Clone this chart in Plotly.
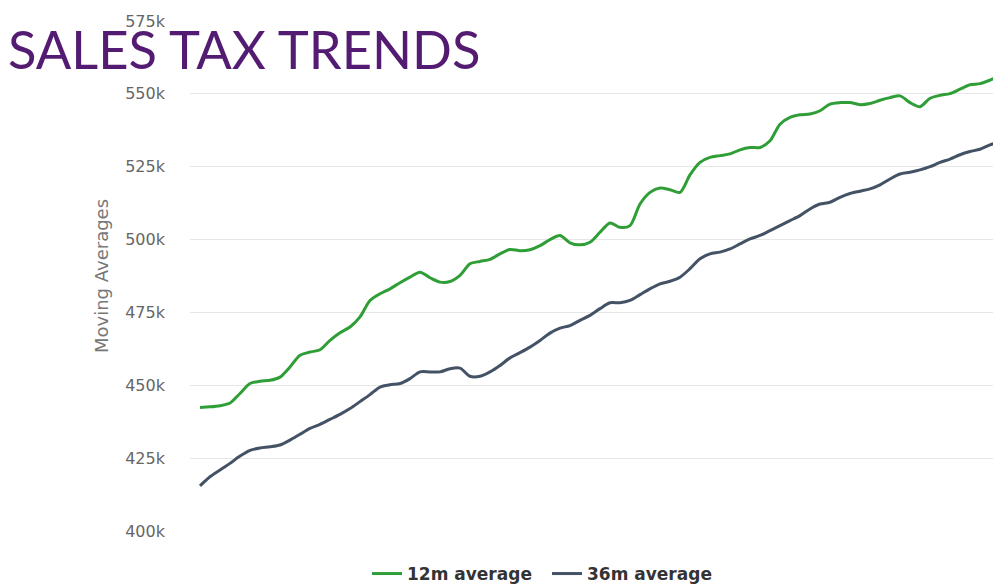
import plotly.graph_objects as go

# Monthly index (no x labels shown in the reference)
months = list(range(81))

avg_12m = [442.4, 442.6, 443.0, 443.9, 447.2, 450.6, 451.4, 451.7, 452.8, 456.3,
           460.3, 461.4, 462.2, 465.4, 468.0, 470.0, 473.5, 479.1, 481.4, 483.1,
           485.2, 487.1, 488.8, 486.9, 485.4, 485.6, 487.7, 491.7, 492.5, 493.2,
           495.1, 496.6, 496.2, 496.5, 497.9, 500.0, 501.4, 498.9, 498.2, 499.1,
           502.5, 505.7, 504.2, 504.8, 512.2, 516.2, 517.7, 517.1, 516.2, 522.2,
           526.5, 528.2, 528.8, 529.4, 530.8, 531.6, 531.6, 533.9, 539.6, 541.9,
           542.8, 543.1, 544.2, 546.5, 547.0, 547.0, 546.3, 546.7, 547.8, 548.7,
           549.3, 547.0, 545.6, 548.5, 549.5, 550.1, 551.6, 553.1, 553.5, 554.7,
           556.2]

avg_36m = [415.5, 418.6, 420.9, 423.2, 425.7, 427.7, 428.5, 428.9, 429.5, 431.2,
           433.2, 435.2, 436.6, 438.3, 440.0, 442.0, 444.4, 446.8, 449.4, 450.2,
           450.6, 452.3, 454.6, 454.6, 454.6, 455.7, 455.9, 453.1, 453.1, 454.6,
           456.8, 459.4, 461.2, 463.1, 465.4, 467.9, 469.6, 470.5, 472.3, 474.0,
           476.3, 478.3, 478.3, 479.1, 481.1, 483.1, 484.8, 485.7, 487.1, 490.0,
           493.4, 495.1, 495.7, 496.8, 498.5, 500.2, 501.4, 503.1, 504.8, 506.5,
           508.2, 510.5, 512.2, 512.8, 514.5, 515.8, 516.6, 517.4, 518.8, 520.8,
           522.5, 523.1, 523.9, 525.0, 526.5, 527.6, 529.1, 530.2, 531.0, 532.5,
           533.5]

tick_values = [400000, 425000, 450000, 475000, 500000, 525000, 550000, 575000]
tick_labels = ["400k", "425k", "450k", "475k", "500k", "525k", "550k", "575k"]

series_names = ["12m average", "36m average"]

GREEN = "#2f9e37"
SLATE = "#445266"

# The page body has an 8px default margin, so the figure is sized/positioned
# to compensate (figure coords = page coords - 8).
W, H = 993, 576
L, T, B = 182, 13, 53
PH = H - T - B  # plot height
PW = W - L

fig = go.Figure()
fig.add_trace(go.Scatter(x=months, y=[v * 1000 for v in avg_12m], mode="lines",
                         name=series_names[0],
                         line=dict(color=GREEN, width=3, shape="spline", smoothing=0.8)))
fig.add_trace(go.Scatter(x=months, y=[v * 1000 for v in avg_36m], mode="lines",
                         name=series_names[1],
                         line=dict(color=SLATE, width=3, shape="spline", smoothing=0.8)))

fig.update_layout(
    width=W, height=H,
    margin=dict(l=L, r=0, t=T, b=B, autoexpand=False),
    paper_bgcolor="white", plot_bgcolor="white",
    font=dict(family="DejaVu Sans", color="#666666"),
    title=dict(text="SALES TAX TRENDS", xref="container", yref="container",
               x=0.0, xanchor="left", y=1 - 43 / H, yanchor="middle",
               font=dict(family="Lato", size=52.5, color="#541b72")),
    xaxis=dict(range=[-1, 80.1], showgrid=False, showticklabels=False,
               zeroline=False, showline=False, ticks=""),
    yaxis=dict(range=[400000, 575000], tickvals=tick_values, ticktext=tick_labels,
               showgrid=True, gridcolor="#e6e6e6", gridwidth=1, zeroline=False,
               showline=False, ticks="", ticklabelstandoff=24,
               tickfont=dict(family="DejaVu Sans", size=16, color="#666666")),
    legend=dict(orientation="h", x=(539 - L) / PW, xanchor="center",
                y=-(566 - (T + PH)) / PH, yanchor="middle",
                font=dict(family="DejaVu Sans", size=17, color="#333333", weight="bold"),
                itemwidth=30, entrywidth=135, entrywidthmode="pixels",
                bgcolor="rgba(0,0,0,0)"),
    showlegend=True,
)

fig.add_annotation(text="Moving Averages", xref="paper", yref="paper",
                   x=-(L - 93) / PW, y=0.5, showarrow=False,
                   textangle=-90, xanchor="center", yanchor="middle",
                   font=dict(family="DejaVu Sans", size=18, color="#777777"))

fig.write_html("out.html")
